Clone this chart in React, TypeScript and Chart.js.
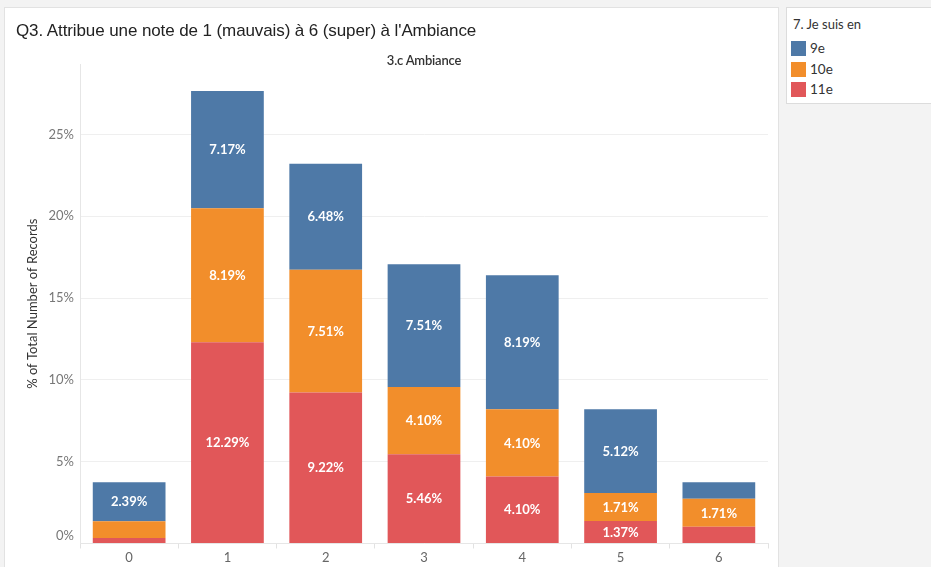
import React, { useEffect, useRef } from 'react';
import { Chart, registerables } from 'chart.js';

Chart.register(...registerables);

const categories = ['0', '1', '2', '3', '4', '5', '6'];
const grade9 = [2.39, 7.17, 6.48, 7.51, 8.19, 5.12, 1.02];
const grade10 = [1.02, 8.19, 7.51, 4.1, 4.1, 1.71, 1.71];
const grade11 = [0.34, 12.29, 9.22, 5.46, 4.1, 1.37, 1.02];
const yTickValues = [0, 5, 10, 15, 20, 25];

const seriesNames = ['9e', '10e', '11e'];
const seriesColors = ['#4E79A7', '#F28E2B', '#E15759'];

const segmentLabels = {
  id: 'segmentLabels',
  afterDatasetsDraw(chart: any) {
    const ctx = chart.ctx;
    ctx.save();
    ctx.font = 'bold 13px Lato';
    ctx.fillStyle = '#ffffff';
    ctx.textAlign = 'center';
    ctx.textBaseline = 'middle';
    chart.data.datasets.forEach((ds: any, di: number) => {
      const meta = chart.getDatasetMeta(di);
      meta.data.forEach((el: any, i: number) => {
        const v = ds.data[i] as number;
        if (v < 1.3) return;
        const p = el.getProps(['x', 'y', 'base'], true);
        ctx.fillText(v.toFixed(2) + '%', p.x, (p.y + p.base) / 2 + 0.5);
      });
    });
    // Tableau lifts the bottom tick label so it stays above the axis line
    const y = chart.scales.y;
    ctx.font = '13px Lato';
    ctx.fillStyle = '#777';
    ctx.textAlign = 'right';
    ctx.fillText(yTickValues[0] + '%', y.right - 6, y.getPixelForValue(yTickValues[0]) - 8);
    ctx.restore();
  },
};

export default function App() {
  const ref = useRef<HTMLCanvasElement>(null);

  useEffect(() => {
    document.body.style.margin = '0';
    const chart = new Chart(ref.current as HTMLCanvasElement, {
      type: 'bar',
      data: {
        labels: categories,
        datasets: [
          { label: seriesNames[2], data: grade11, backgroundColor: seriesColors[2] },
          { label: seriesNames[1], data: grade10, backgroundColor: seriesColors[1] },
          { label: seriesNames[0], data: grade9, backgroundColor: seriesColors[0] },
        ],
      },
      options: {
        responsive: false,
        animation: false,
        devicePixelRatio: 1,
        layout: { padding: { top: 56, right: 9, left: 0, bottom: 0 } },
        datasets: { bar: { barPercentage: 0.74, categoryPercentage: 1 } },
        plugins: {
          legend: { display: false },
          tooltip: { enabled: false },
          title: { display: false },
        },
        scales: {
          x: {
            stacked: true,
            afterFit: (s: any) => { s.height = 23.5; },
            grid: { drawOnChartArea: false, drawTicks: true, tickLength: 5, color: '#e2e2e2', offset: true },
            border: { display: true, color: '#e6e6e6' },
            ticks: { color: '#666', font: { family: 'Lato', size: 13 }, padding: 2 },
          },
          y: {
            stacked: true,
            min: 0,
            max: 29.3,
            afterFit: (s: any) => { s.width = 75; },
            afterBuildTicks: (s: any) => { s.ticks = yTickValues.map((v) => ({ value: v })); },
            grid: { color: '#efefef', drawTicks: false },
            border: { display: true, color: '#e6e6e6' },
            ticks: {
              color: '#777',
              font: { family: 'Lato', size: 13 },
              padding: 6,
              callback: (v: any) => (v === yTickValues[0] ? '' : v + '%'),
            },
            title: {
              display: true,
              text: '% of Total Number of Records',
              color: '#333',
              font: { family: 'Lato', size: 13 },
              padding: { top: 20, bottom: 0 },
            },
          },
        },
      },
      plugins: [segmentLabels],
    } as any);
    return () => chart.destroy();
  }, []);

  const legendItems = [0, 1, 2];

  return (
    <div style={{ position: 'relative', width: 931, height: 567, background: '#f3f3f3', overflow: 'hidden', fontFamily: 'Lato' }}>
      <div style={{ position: 'absolute', left: 4, top: 7, width: 775, height: 580, boxSizing: 'border-box', background: '#fff', border: '1px solid #e2e2e2' }}>
        <canvas ref={ref} width={772} height={559} style={{ position: 'absolute', left: 0, top: 0, width: 772, height: 559 }} />
        <div style={{ position: 'absolute', left: 11, top: 13, fontFamily: '"Liberation Sans", Arial', fontSize: 17, lineHeight: '20px', letterSpacing: '-0.1px', color: '#222', whiteSpace: 'nowrap' }}>
          Q3. Attribue une note de 1 (mauvais) à 6 (super) à l'Ambiance
        </div>
        <div style={{ position: 'absolute', left: 75, width: 688, top: 43, textAlign: 'center', fontFamily: 'Lato', fontWeight: 600, fontSize: 13, lineHeight: '18px', letterSpacing: '-0.2px', color: '#333' }}>
          3.c Ambiance
        </div>
      </div>
      <div style={{ position: 'absolute', left: 786, top: 7, width: 160, height: 97, boxSizing: 'border-box', background: '#fff', border: '1px solid #dcdcdc' }}>
        <div style={{ position: 'absolute', left: 6, top: 8, fontSize: 13, lineHeight: '16px', color: '#333', whiteSpace: 'nowrap' }}>7. Je suis en</div>
        {legendItems.map((k) => (
          <div key={k} style={{ position: 'absolute', left: 4, top: 33 + k * 20.5, height: 15, display: 'flex', alignItems: 'center' }}>
            <div style={{ width: 15, height: 15, background: seriesColors[k] }} />
            <div style={{ marginLeft: 4, fontSize: 13.5, color: '#333', lineHeight: '15px' }}>{seriesNames[k]}</div>
          </div>
        ))}
      </div>
    </div>
  );
}
